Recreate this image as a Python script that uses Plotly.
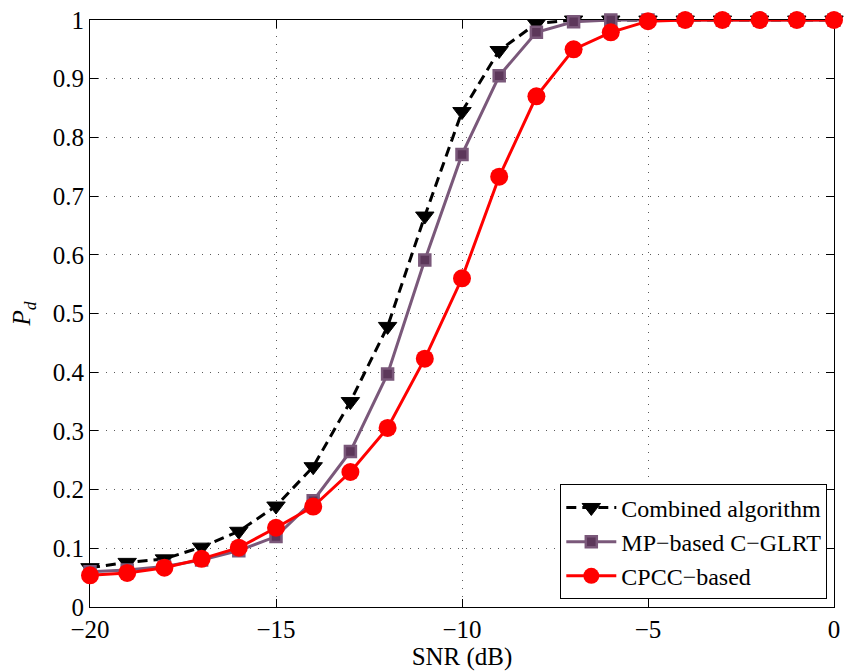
import plotly.graph_objects as go

# SNR grid (dB)
snr_db = [-20, -19, -18, -17, -16, -15, -14, -13, -12, -11, -10,
          -9, -8, -7, -6, -5, -4, -3, -2, -1, 0]

# Detection probability for each detector
pd_combined = [0.067, 0.076, 0.082, 0.102, 0.129, 0.172, 0.239, 0.350, 0.478,
               0.666, 0.844, 0.948, 0.994, 1.0, 1.0, 1.0, 1.0, 1.0, 1.0, 1.0, 1.0]
pd_mp_cglrt = [0.060, 0.063, 0.069, 0.080, 0.096, 0.120, 0.181, 0.265, 0.397,
               0.591, 0.771, 0.905, 0.979, 0.997, 1.0, 1.0, 1.0, 1.0, 1.0, 1.0, 1.0]
pd_cpcc = [0.054, 0.058, 0.067, 0.082, 0.101, 0.135, 0.171, 0.230, 0.305,
           0.423, 0.560, 0.733, 0.870, 0.950, 0.979, 0.998, 1.0, 1.0, 1.0, 1.0, 1.0]

series_names = ["Combined algorithm", "MP\u2212based C\u2212GLRT", "CPCC\u2212based"]

x_ticks = [-20, -15, -10, -5, 0]
y_ticks = [0, 0.1, 0.2, 0.3, 0.4, 0.5, 0.6, 0.7, 0.8, 0.9, 1]
y_tick_text = ["0", "0.1", "0.2", "0.3", "0.4", "0.5", "0.6", "0.7", "0.8", "0.9", "1"]

FONT = "Liberation Serif, Times New Roman, serif"
PURPLE_LINE = "rgb(122,88,122)"
PURPLE_FILL = "rgb(92,55,90)"

fig = go.Figure()

fig.add_trace(go.Scatter(
    x=snr_db, y=pd_combined, name=series_names[0], mode="lines+markers",
    line=dict(color="black", width=3, dash="10px,6px"),
    marker=dict(symbol="triangle-down", size=16, color="black",
                line=dict(color="black", width=1)),
    cliponaxis=False,
))

fig.add_trace(go.Scatter(
    x=snr_db, y=pd_mp_cglrt, name=series_names[1], mode="lines+markers",
    line=dict(color=PURPLE_LINE, width=3),
    marker=dict(symbol="square", size=11, color=PURPLE_FILL,
                line=dict(color=PURPLE_LINE, width=2.5)),
    cliponaxis=False,
))

fig.add_trace(go.Scatter(
    x=snr_db, y=pd_cpcc, name=series_names[2], mode="lines+markers",
    line=dict(color="#ff0000", width=3),
    marker=dict(symbol="circle", size=18, color="#ff0000",
                line=dict(color="#ff0000", width=0)),
    cliponaxis=False,
))

axis_common = dict(
    showline=True, linecolor="black", linewidth=1.2, mirror="ticks",
    ticks="inside", ticklen=8, tickwidth=1, tickcolor="black",
    showgrid=True, gridcolor="rgb(90,90,90)", gridwidth=1, griddash="1px,7px",
    zeroline=False, layer="below traces",
    tickfont=dict(family=FONT, size=25, color="black"),
)

fig.update_xaxes(
    range=[-20, 0], tickvals=x_ticks,
    title=dict(text="SNR (dB)", font=dict(family=FONT, size=25, color="black"),
               standoff=0),
    **axis_common,
)
fig.update_yaxes(
    range=[0, 1], tickvals=y_ticks, ticktext=y_tick_text,
    title=dict(text="<i>P</i><sub><i>d</i></sub>",
               font=dict(family=FONT, size=25, color="black"), standoff=14),
    **axis_common,
)

fig.update_layout(
    width=847, height=671,
    margin=dict(l=90, r=7, t=16, b=64),
    paper_bgcolor="white", plot_bgcolor="white",
    font=dict(family=FONT, color="black"),
    showlegend=True,
    legend=dict(
        x=0.991, y=0.013, xanchor="right", yanchor="bottom",
        bgcolor="white", bordercolor="black", borderwidth=1,
        font=dict(family=FONT, size=24, color="black"),
        itemwidth=50, tracegroupgap=0,
    ),
)

fig.write_html("out.html")
